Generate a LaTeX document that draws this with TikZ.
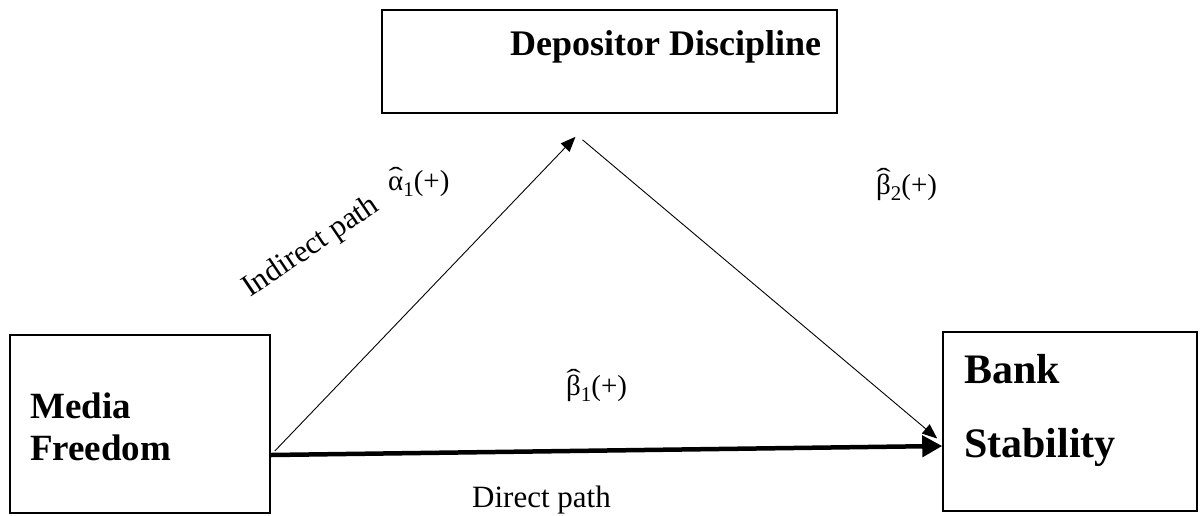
\documentclass[tikz,border=0pt]{standalone}
\usepackage{graphicx}
\usepackage{fontspec}
\setmainfont{Liberation Serif}
\usetikzlibrary{arrows.meta}
\newsavebox\coefbox
\newcommand\coeflabel[3]{%
  \sbox\coefbox{#1}%
  \rlap{\hbox to \wd\coefbox{\hss\raisebox{#3}{\scalebox{1.5}[0.85]{ˆ}}\hss}}%
  \usebox\coefbox\raisebox{-0.22em}{\scalebox{0.72}{#2}}(+)}
\tikzset{
  box/.style={draw, line width=1.6pt, inner sep=0pt},
  boxlabel/.style={font=\bfseries, anchor=base west, inner sep=0pt},
  thinarrow/.style={line width=0.9pt, -{Triangle[length=15pt,width=12pt]}},
  thickarrow/.style={line width=4.5pt, -{Triangle[length=20pt,width=21pt]}},
  pathlabel/.style={font=\fontsize{31}{34}\selectfont, inner sep=0pt},
  coef/.style={font=\fontsize{29}{32}\selectfont, inner sep=0pt}
}
\begin{document}
\begin{tikzpicture}[x=1pt,y=-1pt]
\useasboundingbox (0,0) rectangle (1202,515);
% boxes
\node[box, minimum width=455pt, minimum height=103pt] (DD) at (609.5,61.5) {};
\node[box, minimum width=260pt, minimum height=178pt] (MF) at (140,424) {};
\node[box, minimum width=254pt, minimum height=179pt] (BS) at (1070,421.5) {};
% box texts
\node[boxlabel, font=\bfseries\fontsize{36}{40}\selectfont] (ddt) at (510,55) {Depositor Discipline};
\node[boxlabel, font=\bfseries\fontsize{37}{40}\selectfont] (mft1) at (30,418) {Media};
\node[boxlabel, font=\bfseries\fontsize{37}{40}\selectfont] (mft2) at (30,460) {Freedom};
\node[boxlabel, font=\bfseries\fontsize{42}{46}\selectfont] (bst1) at (964,383) {Bank};
\node[boxlabel, font=\bfseries\fontsize{42}{46}\selectfont] (bst2) at (964,457) {Stability};
% connectors
\draw[thickarrow] ([yshift=-31pt]MF.east) -- ([yshift=-24.5pt]BS.west);
\draw[thinarrow] ([xshift=4pt,yshift=-27pt]MF.east) -- ([xshift=-34pt,yshift=-23pt]DD.south);
\draw[thinarrow] ([xshift=-27pt,yshift=-26pt]DD.south) -- ([xshift=-5pt,yshift=-17pt]BS.west);
% labels
\node[pathlabel, anchor=base west, rotate=34] (ind) at (250,298) {Indirect path};
\node[coef, anchor=base west] (a1) at (388,190) {\coeflabel{α}{1}{0.2em}};
\node[coef, anchor=base west] (b2) at (876,194) {\coeflabel{β}{2}{0.3em}};
\node[coef, anchor=base west] (b1) at (566,395) {\coeflabel{β}{1}{0.3em}};
\node[pathlabel, anchor=base west] (dir) at (472,507) {Direct path};
\end{tikzpicture}
\end{document}
